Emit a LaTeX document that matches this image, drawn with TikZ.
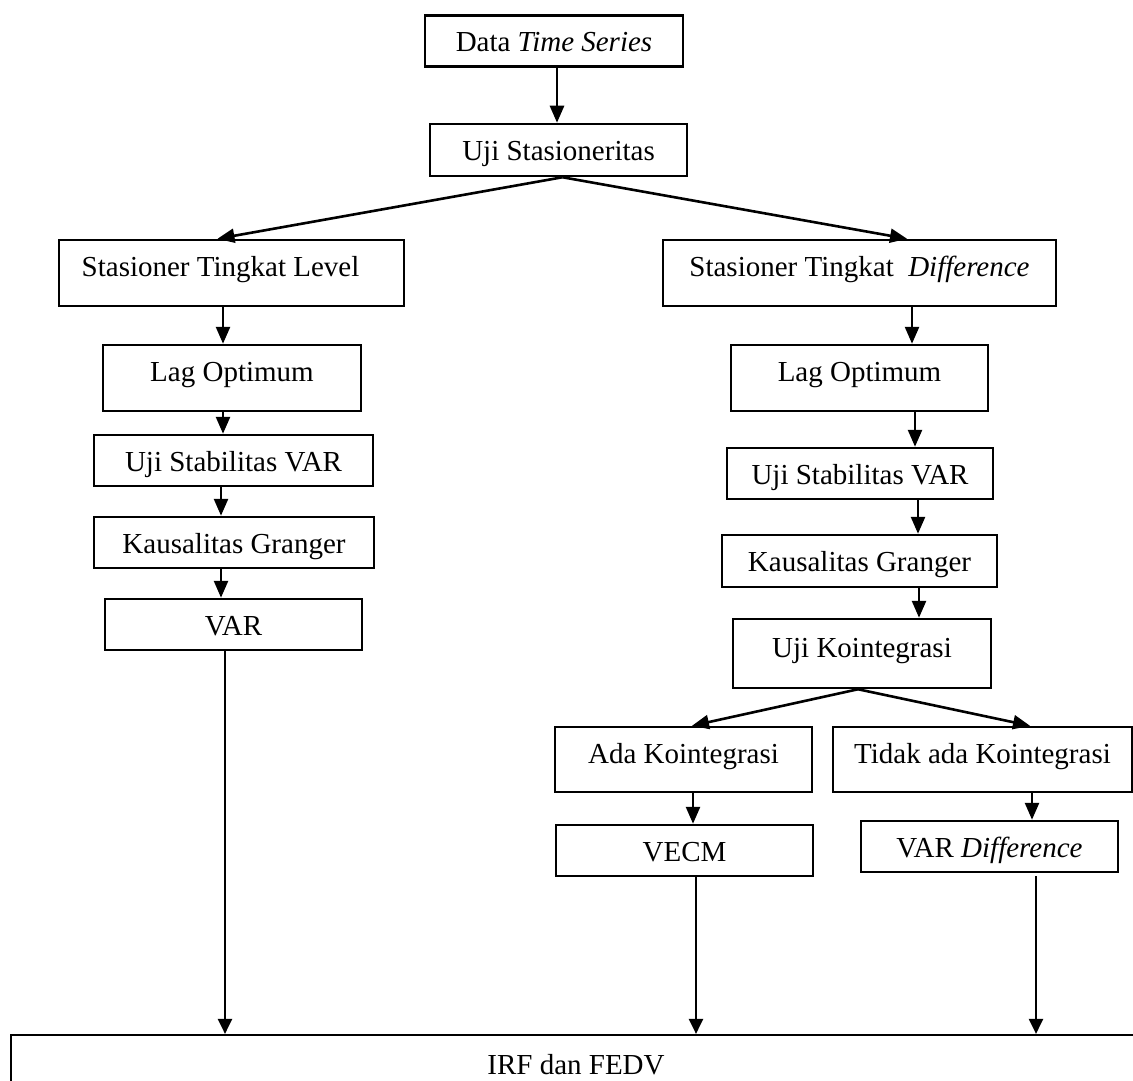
\documentclass[tikz,border=0pt]{standalone}
\usepackage{fontspec}
\setmainfont{Liberation Serif}
\usepackage{tikz}
\usetikzlibrary{arrows.meta}

\tikzset{
    box/.style={draw, line width=1.25pt, inner sep=0pt,
        minimum height=25.5pt, text height=1.05em, text depth=0pt,
        font=\fontsize{14.5pt}{17pt}\selectfont},
    tallbox/.style={box, minimum height=33pt, text depth=0.7em},
    arr/.style={line width=1.3pt, -{Triangle[length=8.5pt,width=7pt]}},
    longarr/.style={line width=1.1pt, -{Triangle[length=7.5pt,width=7pt]}}
}

\begin{document}
\begin{tikzpicture}[x=0.5pt, y=-0.5pt]
\useasboundingbox (0,0) rectangle (1133,1080);

% top
\node[box, minimum width=129pt] (data) at (554,41) {Data \textit{Time Series}};
\node[box, minimum width=128.5pt, minimum height=26pt] (uji) at (558.5,150) {Uji Stasioneritas};

% level branch
\node[tallbox, minimum width=172.5pt] (lvl) at (231.5,273) {Stasioner Tingkat Level\hspace*{11pt}};
\node[tallbox, minimum width=129pt] (lagA) at (232,378) {Lag Optimum};
\node[box, minimum width=139.5pt] (stabA) at (233.5,460.5) {Uji Stabilitas VAR};
\node[box, minimum width=140pt] (kausA) at (234,542.5) {Kausalitas Granger};
\node[box, minimum width=128.5pt] (varA) at (233.5,624.5) {VAR};

% difference branch
\node[tallbox, minimum width=196.5pt] (dif) at (859.5,273) {Stasioner Tingkat \ \textit{Difference}};
\node[tallbox, minimum width=128.5pt] (lagB) at (859.5,378) {Lag Optimum};
\node[box, minimum width=133pt] (stabB) at (860,473.5) {Uji Stabilitas VAR};
\node[box, minimum width=137.5pt, minimum height=26pt] (kausB) at (859.5,561) {Kausalitas Granger};
\node[tallbox, minimum width=129pt, minimum height=34.5pt] (koin) at (862,653.5) {Uji Kointegrasi};
\node[tallbox, minimum width=128.5pt, minimum height=32.5pt] (ada) at (683.5,759.5) {Ada Kointegrasi};
\node[tallbox, minimum width=149.5pt, minimum height=32.5pt] (tidak) at (982.5,759.5) {Tidak ada Kointegrasi};
\node[box, minimum width=128.5pt] (vecm) at (684.5,850.5) {VECM};
\node[box, minimum width=128.5pt] (vard) at (989.5,846.5) {VAR \textit{Difference}};

% result
\node[box, line width=1.1pt, minimum width=565pt, minimum height=29pt] (irf) at (576,1064) {IRF dan FEDV};

% arrows
\draw[arr] (data.south -| 557,0) -- (uji.north -| 557,0);
\draw[arr] ([xshift=2pt]uji.south) -- ([xshift=-7pt]lvl.north);
\draw[arr] ([xshift=2pt]uji.south) -- ([xshift=23.75pt]dif.north);

\draw[arr] (lvl.south -| 223,0) -- (lagA.north -| 223,0);
\draw[arr] (lagA.south -| 223,0) -- (stabA.north -| 223,0);
\draw[arr] (stabA.south -| 221,0) -- (kausA.north -| 221,0);
\draw[arr] (kausA.south -| 221,0) -- (varA.north -| 221,0);

\draw[arr] (dif.south -| 912,0) -- (lagB.north -| 912,0);
\draw[arr] (lagB.south -| 915,0) -- (stabB.north -| 915,0);
\draw[arr] (stabB.south -| 918,0) -- (kausB.north -| 918,0);
\draw[arr] (kausB.south -| 919,0) -- (koin.north -| 919,0);
\draw[arr] ([xshift=-2pt]koin.south) -- ([xshift=4.25pt]ada.north);
\draw[arr] ([xshift=-2pt]koin.south) -- ([xshift=23.75pt]tidak.north);
\draw[arr] (ada.south -| 693,0) -- (vecm.north -| 693,0);
\draw[arr] (tidak.south -| 1032,0) -- (vard.north -| 1032,0);

\draw[longarr] (varA.south -| 225,0) -- (irf.north -| 225,0);
\draw[longarr] (vecm.south -| 696,0) -- (irf.north -| 696,0);
\draw[longarr] ([yshift=-1.5pt]vard.south -| 1036,0) -- (irf.north -| 1036,0);
\end{tikzpicture}
\end{document}
